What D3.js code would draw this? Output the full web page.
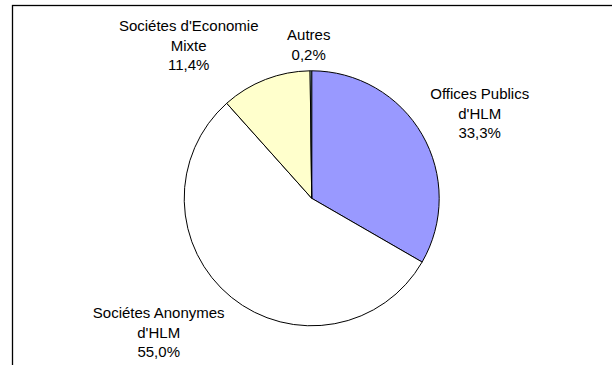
<!DOCTYPE html>
<html>
<head>
<meta charset="utf-8">
<script src="https://cdn.jsdelivr.net/npm/d3@7"></script>
<style>
  html, body { margin: 0; padding: 0; background: #fff; }
  svg { display: block; }
  text { font-family: "Liberation Sans", Arial, sans-serif; font-size: 15px; fill: #000; }
</style>
</head>
<body>
<svg id="chart" width="612" height="365"></svg>
<script>
// Répartition du parc par type d'organisme
const categories = [
  "Offices Publics\nd'HLM",
  "Sociétes Anonymes\nd'HLM",
  "Sociétes d'Economie\nMixte",
  "Autres"
];
const shares = [33.3, 55.0, 11.4, 0.2];
const colors = ["#9999FF", "#FFFFFF", "#FFFFCC", "#CCFFFF"];

// label centres, relative to the pie centre (x, first baseline)
const labelOffsets = [
  [168, -99],
  [-153, 120],
  [-123, -167],
  [-3, -158]
];

const width = 612, height = 365;
const cx = 311.7, cy = 198.3, radius = 127.5;
const lineHeight = 19.4;

const svg = d3.select("#chart");

// outer frame (top and left edges visible)
svg.append("rect")
  .attr("x", 12.5).attr("y", 5.5)
  .attr("width", 700).attr("height", 500)
  .attr("fill", "none")
  .attr("stroke", "#000")
  .attr("stroke-width", 1.3);

const data = categories.map((c, i) => ({ name: c, value: shares[i], color: colors[i], offset: labelOffsets[i] }));

const pie = d3.pie().sort(null).value(d => d.value).startAngle(0).endAngle(2 * Math.PI * d3.sum(shares) / 100);
const arc = d3.arc().innerRadius(0).outerRadius(radius);

// the slices are scaled to a full turn
const pieFull = d3.pie().sort(null).value(d => d.value);

const g = svg.append("g").attr("transform", `translate(${cx},${cy})`);

g.selectAll("path")
  .data(pieFull(data))
  .join("path")
  .attr("d", arc)
  .attr("fill", d => d.data.color)
  .attr("stroke", "#000")
  .attr("stroke-width", 1)
  .attr("stroke-linejoin", "round");

const fmt = d3.formatLocale({ decimal: ",", thousands: " ", grouping: [3], currency: ["", " €"] }).format(".1f");

const labels = g.selectAll("text.lbl")
  .data(data)
  .join("text")
  .attr("class", "lbl")
  .attr("text-anchor", "middle")
  .attr("x", d => d.offset[0])
  .attr("y", d => d.offset[1]);

labels.each(function(d) {
  const lines = d.name.split("\n").concat([fmt(d.value) + "%"]);
  d3.select(this).selectAll("tspan")
    .data(lines)
    .join("tspan")
    .attr("x", d.offset[0])
    .attr("dy", (t, i) => i === 0 ? 0 : lineHeight)
    .text(t => t);
});
</script>
</body>
</html>
